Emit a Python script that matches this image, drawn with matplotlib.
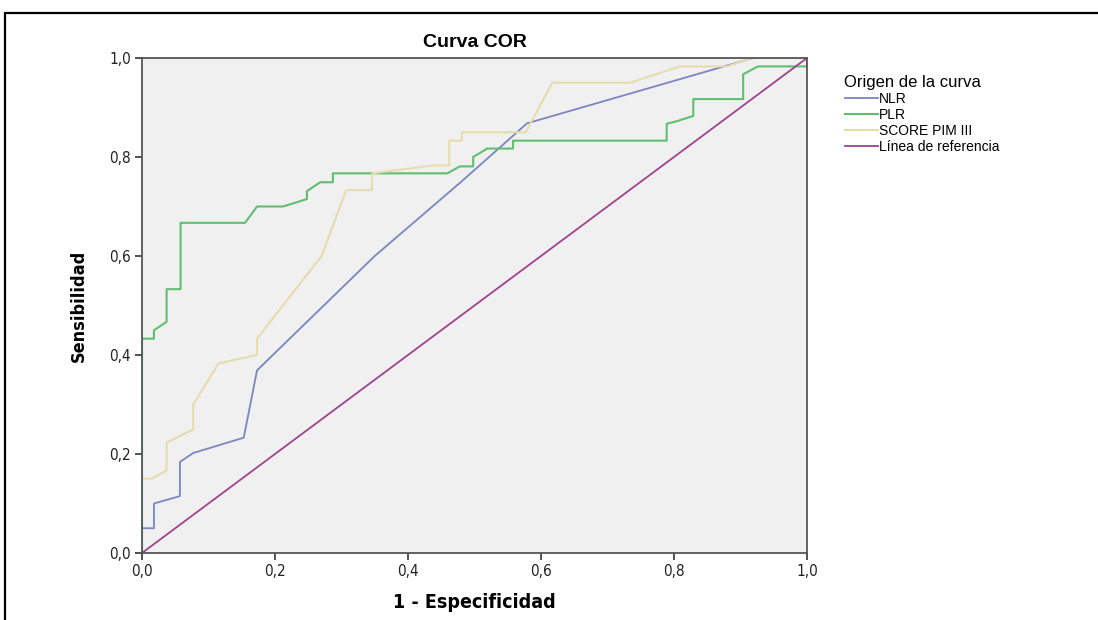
import numpy as np
import matplotlib.pyplot as plt
from matplotlib.patches import Rectangle
from matplotlib import font_manager

# ROC curve points (1 - especificidad, sensibilidad).
nlr_x = [0.0, 0.0, 0.018, 0.018, 0.057, 0.057, 0.077, 0.153, 0.173, 0.35, 0.48, 0.579, 0.919, 1.0]
nlr_y = [0.0, 0.05, 0.05, 0.10, 0.115, 0.184, 0.202, 0.233, 0.369, 0.60, 0.75, 0.868, 1.0, 1.0]

plr_x = [0.0, 0.0, 0.018, 0.018, 0.037, 0.037, 0.058, 0.058, 0.155, 0.173, 0.212, 0.248,
         0.248, 0.268, 0.287, 0.287, 0.459, 0.478, 0.498, 0.498, 0.519, 0.558, 0.558,
         0.789, 0.789, 0.806, 0.829, 0.829, 0.904, 0.904, 0.926, 1.0, 1.0]
plr_y = [0.0, 0.433, 0.433, 0.45, 0.467, 0.533, 0.533, 0.667, 0.667, 0.70, 0.70, 0.715,
         0.731, 0.749, 0.749, 0.767, 0.767, 0.781, 0.781, 0.80, 0.817, 0.817, 0.833,
         0.833, 0.867, 0.873, 0.883, 0.917, 0.917, 0.967, 0.983, 0.983, 1.0]

pim_x = [0.0, 0.015, 0.037, 0.037, 0.077, 0.077, 0.115, 0.173, 0.173, 0.27, 0.307, 0.346,
         0.346, 0.438, 0.462, 0.462, 0.481, 0.481, 0.577, 0.577, 0.617, 0.734, 0.809,
         0.88, 0.917, 1.0]
pim_y = [0.15, 0.15, 0.167, 0.223, 0.25, 0.30, 0.383, 0.40, 0.433, 0.60, 0.733, 0.733,
         0.767, 0.783, 0.783, 0.833, 0.833, 0.85, 0.85, 0.85, 0.95, 0.95, 0.983,
         0.983, 1.0, 1.0]

ref_x = [0.0, 1.0]
ref_y = [0.0, 1.0]

ticks = [0.0, 0.2, 0.4, 0.6, 0.8, 1.0]
tick_labels = ['0,0', '0,2', '0,4', '0,6', '0,8', '1,0']

# condensed face for ticks/axis labels if there is one, else Liberation Sans
names = {f.name for f in font_manager.fontManager.ttflist}
narrow = 'Liberation Sans'
for cand in ['Liberation Sans Narrow', 'DejaVu Sans Condensed']:
    if cand in names:
        narrow = cand
        break
has_cond = any(f.name == 'DejaVu Sans' and f.stretch == 'condensed'
               for f in font_manager.fontManager.ttflist)
stretch = 'condensed' if (narrow == 'Liberation Sans' and has_cond) else 'normal'
if stretch == 'condensed':
    narrow = 'DejaVu Sans'

plt.rcParams['font.family'] = ['Liberation Sans', 'DejaVu Sans']

fig = plt.figure(figsize=(10.98, 6.2), dpi=100)
fig.patches.append(Rectangle((5 / 1098, -0.1), 1.2, 1 - 13 / 620 + 0.1,
                             transform=fig.transFigure, fill=False,
                             edgecolor='black', linewidth=1.6))

ax = fig.add_axes([142 / 1098, 1 - 553 / 620, 665 / 1098, 495 / 620])
ax.set_facecolor('#f0f0f0')

ax.plot(nlr_x, nlr_y, color='#7b86c2', lw=1.3, label='NLR')
ax.plot(plr_x, plr_y, color='#5fbf6f', lw=1.5, label='PLR')
ax.plot(pim_x, pim_y, color='#e6dcae', lw=1.5, label='SCORE PIM III')
ax.plot(ref_x, ref_y, color='#a0428e', lw=1.3, label='Línea de referencia')

ax.set_xlim(0, 1)
ax.set_ylim(0, 1)
ax.set_xticks(ticks)
ax.set_yticks(ticks)
ax.set_xticklabels(tick_labels, family=narrow, stretch=stretch, fontsize=11, color='#222222')
ax.set_yticklabels(tick_labels, family=narrow, stretch=stretch, fontsize=11, color='#222222')
ax.tick_params(direction='out', length=5, width=1.2, color='#333333', pad=3)
for s in ax.spines.values():
    s.set_color('#555555')
    s.set_linewidth(1.3)

ax.set_title('Curva COR', fontsize=14, fontweight='bold', pad=8)
ax.set_xlabel('1 - Especificidad', family=narrow, stretch=stretch, fontsize=14,
              fontweight='bold', labelpad=10)
ax.set_ylabel('Sensibilidad', family=narrow, stretch=stretch, fontsize=13,
              fontweight='bold', labelpad=15)

leg = ax.legend(loc='upper left', bbox_to_anchor=(832 / 1098, 1 - 62 / 620),
                bbox_transform=fig.transFigure, frameon=False, fontsize=10,
                handlelength=2.4, handletextpad=0.1, labelspacing=0.15,
                title='Origen de la curva', title_fontsize=12)
leg._legend_box.align = 'left'

plt.savefig('out.png', dpi=100)
